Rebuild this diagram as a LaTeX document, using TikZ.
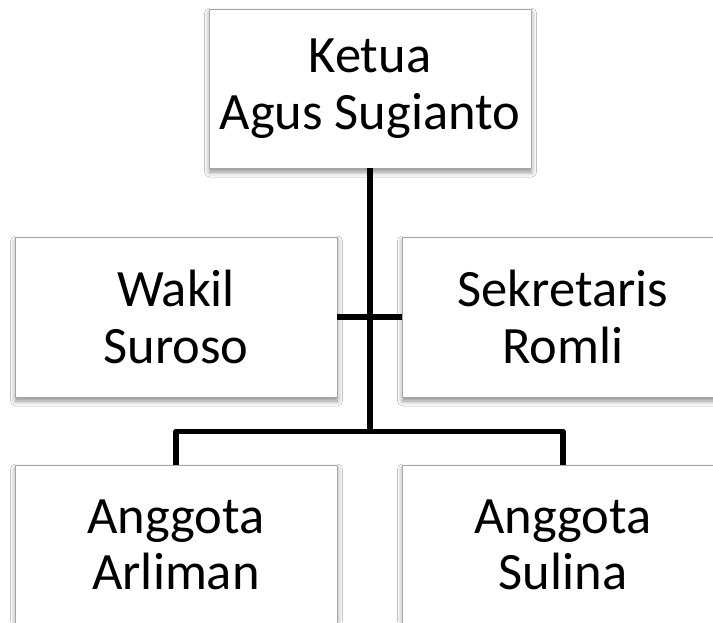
\documentclass[tikz,border=0pt]{standalone}
\usepackage{fontspec}
\setmainfont{Carlito}
\usetikzlibrary{shadows.blur}
\tikzset{
  orgbox/.style={draw=gray!70, line width=0.8pt, fill=white, minimum width=322pt, minimum height=160pt,
    inner sep=0pt, align=center, font=\fontsize{52.5}{56.5}\selectfont,
    blur shadow={shadow xshift=0.5pt, shadow yshift=-4pt, shadow blur radius=5pt, shadow opacity=45}},
  conn/.style={line width=5.5pt, line join=round, black}
}
\begin{document}
\begin{tikzpicture}[x=1pt,y=-1pt]
\useasboundingbox (0,0) rectangle (713,622);
\fill[white] (0,0) rectangle (713,622);
\clip (0,0) rectangle (713,622);
\node[orgbox, minimum height=159pt] (top) at (370,88.5) {Ketua\\Agus Sugianto};
\node[orgbox] (wakil) at (176,317) {Wakil\\Suroso};
\node[orgbox] (sek) at (563,317) {Sekretaris\\Romli};
\node[orgbox] (a1) at (176,545) {Anggota\\Arliman};
\node[orgbox] (a2) at (563,545) {Anggota\\Sulina};
\coordinate (j) at (370,431.5);
\draw[conn] (wakil.east) -- (sek.west);
\draw[conn] (top.south) -- (j);
\draw[conn] (a1.north) |- (j) -| (a2.north);
\end{tikzpicture}
\end{document}
